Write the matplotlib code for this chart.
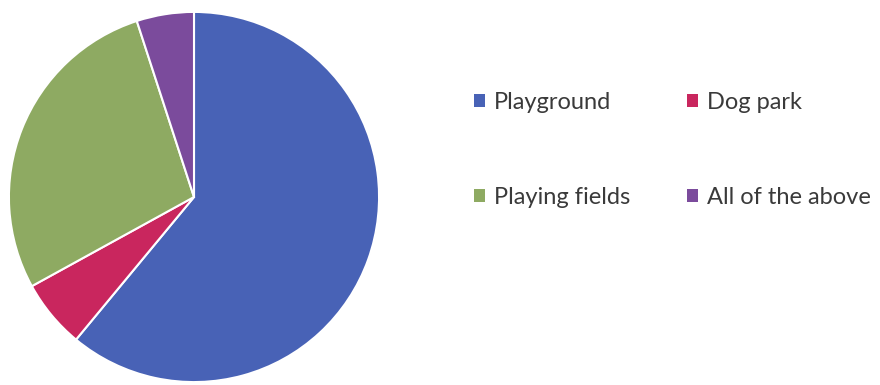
import matplotlib
matplotlib.use('Agg')
import matplotlib.pyplot as plt
from matplotlib import rcParams

rcParams['font.family'] = ['Lato', 'DejaVu Sans']

labels = ['Playground', 'Dog park', 'Playing fields', 'All of the above']
values = [61, 6, 28, 5]
colors = ['#4862B6', '#C9265E', '#8EAA62', '#7B4B9C']

fig = plt.figure(figsize=(8.8, 3.85), dpi=100)
ax = fig.add_axes([8 / 880, 2 / 385, 372 / 880, 372 / 385])

wedges, _ = ax.pie(values, colors=colors, startangle=90, counterclock=False,
                   wedgeprops=dict(edgecolor='white', linewidth=1.5))
ax.set_aspect('equal')
ax.set_xlim(-1.005, 1.005)
ax.set_ylim(-1.005, 1.005)

# legend is row-major in the picture, matplotlib fills columns first
order = [0, 2, 1, 3]
leg = fig.legend([wedges[i] for i in order], [labels[i] for i in order],
                 ncol=2, loc='upper left', bbox_to_anchor=(0.514, 0.817),
                 frameon=False, fontsize=17, handlelength=0.47, handleheight=0.47,
                 handletextpad=0.38, labelspacing=3.15, columnspacing=2.4,
                 labelcolor='#3a3a3a')
for h in leg.legend_handles:
    h.set_edgecolor('none')

fig.savefig('out.png', dpi=100)
